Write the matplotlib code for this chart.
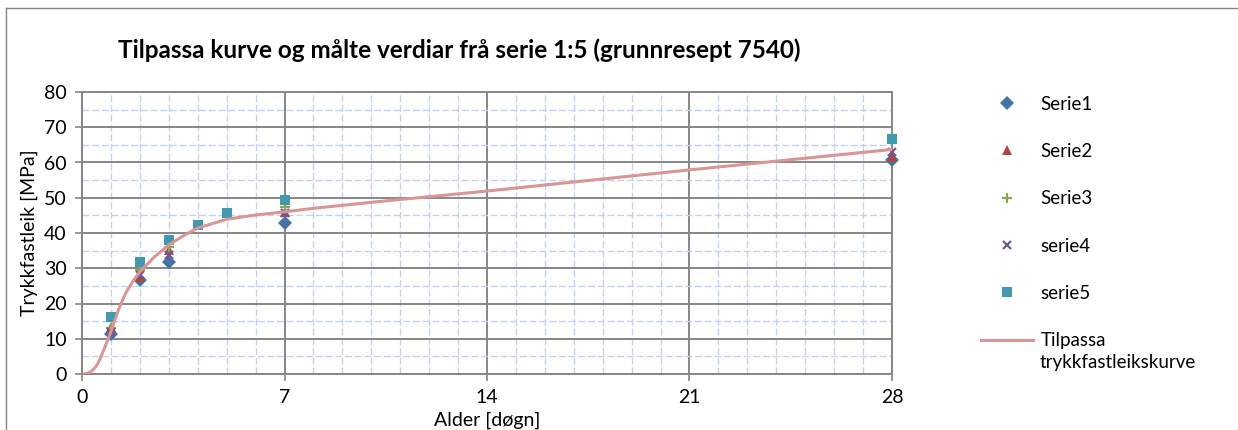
import numpy as np
import matplotlib
matplotlib.use("Agg")
import matplotlib.pyplot as plt
from matplotlib.lines import Line2D
from matplotlib.ticker import MultipleLocator

plt.rcParams['font.family'] = ['Lato', 'DejaVu Sans']

# Measured compressive strength per test age (days)
serie1_age = [1, 2, 3, 7, 28]
serie1_mpa = [11.3, 26.8, 31.9, 42.7, 60.8]
serie2_age = [1, 2, 3, 7, 28]
serie2_mpa = [13.2, 27.6, 35.2, 46.0, 61.6]
serie3_age = [1, 2, 3, 7, 28]
serie3_mpa = [13.0, 29.5, 36.0, 47.3, 67.8]
serie4_age = [1, 2, 3, 7, 28]
serie4_mpa = [12.0, 28.0, 33.8, 45.8, 63.0]
serie5_age = [1, 2, 3, 4, 5, 7, 28]
serie5_mpa = [16.3, 31.8, 38.0, 42.3, 45.7, 49.4, 66.6]

# Fitted strength development curve
curve_age = [0, 0.15, 0.3, 0.45, 0.55, 0.65, 0.75, 0.88, 1.0, 1.12, 1.25, 1.5,
             1.75, 2.0, 2.5, 3.0, 3.5, 4.0, 5.0, 6.0, 7.0, 8.0, 10.0, 12.0,
             14.0, 17.5, 21.0, 24.5, 28.0]
curve_mpa = [0.0, 0.1, 0.6, 1.8, 3.0, 4.8, 6.8, 9.4, 12.0, 14.9, 18.0, 22.8,
             26.2, 29.0, 33.2, 36.6, 39.2, 41.4, 43.9, 45.1, 46.0, 47.0, 48.7,
             50.3, 51.9, 54.9, 57.9, 60.8, 63.7]

series = [
    ("Serie1", serie1_age, serie1_mpa, dict(marker='D', color='#4572A7', ms=7.0, mew=0)),
    ("Serie2", serie2_age, serie2_mpa, dict(marker='^', color='#AA4643', ms=7.5, mew=0)),
    ("Serie3", serie3_age, serie3_mpa, dict(marker='+', color='#89A54E', ms=7.0, mew=1.6)),
    ("serie4", serie4_age, serie4_mpa, dict(marker='x', color='#71588F', ms=6.0, mew=1.6)),
    ("serie5", serie5_age, serie5_mpa, dict(marker='s', color='#4198AF', ms=7.5, mew=0)),
]
curve_color = '#D99694'
major_grid = '#868686'
minor_grid = '#C3D3EA'

fig = plt.figure(figsize=(12.38, 4.30), dpi=100)
ax = fig.add_axes([82 / 1238, 56 / 430, 810 / 1238, 282 / 430])

# outer chart frame (top and left edges)
frame_x = 5.5 / 1238
frame_y = 1 - 8 / 430
fig.add_artist(Line2D([frame_x, 1.0], [frame_y, frame_y], transform=fig.transFigure,
                      color='#868686', lw=1.0))
fig.add_artist(Line2D([frame_x, frame_x], [0.0, frame_y], transform=fig.transFigure,
                      color='#868686', lw=1.0))

ax.set_xlim(0, 28)
ax.set_ylim(0, 80)
ax.xaxis.set_major_locator(MultipleLocator(7))
ax.xaxis.set_minor_locator(MultipleLocator(1))
ax.yaxis.set_major_locator(MultipleLocator(10))
ax.yaxis.set_minor_locator(MultipleLocator(5))
ax.grid(which='minor', color=minor_grid, lw=1.0, ls=(0, (5, 2)), zorder=0)
ax.grid(which='major', color=major_grid, lw=1.4, zorder=1)
ax.set_axisbelow(True)
for side in ax.spines.values():
    side.set_color(major_grid)
    side.set_linewidth(1.4)
ax.tick_params(which='major', length=5, width=1.2, color=major_grid,
               labelsize=14, pad=6)
ax.tick_params(which='minor', length=0)

for name, xs, ys, style in series:
    ax.plot(xs, ys, ls='none', label=name, zorder=3, clip_on=False, **style)
ax.plot(curve_age, curve_mpa, color=curve_color, lw=2.2, zorder=4,
        label="Tilpassa")

ax.set_xlabel("Alder [døgn]", fontsize=14, labelpad=4)
ax.set_ylabel("Trykkfastleik [MPa]", fontsize=14, labelpad=4)
fig.text(118 / 1238, 1 - 50 / 430,
         "Tilpassa kurve og målte verdiar frå serie 1:5 (grunnresept 7540)",
         fontsize=17.5, fontweight='bold', va='center', ha='left')

handles, labels = ax.get_legend_handles_labels()
leg = fig.legend(handles, labels, loc='upper left',
                 bbox_to_anchor=(973 / 1238, 1 - 88 / 430), frameon=False,
                 fontsize=13.5, handlelength=2.8, handletextpad=0.4,
                 labelspacing=1.62, borderaxespad=0, numpoints=1)
# second line of the curve's legend label
fig.text(1040 / 1238, 1 - 368 / 430, "trykkfastleikskurve",
         fontsize=13.5, va='baseline', ha='left')

fig.savefig("out.png", dpi=100)
